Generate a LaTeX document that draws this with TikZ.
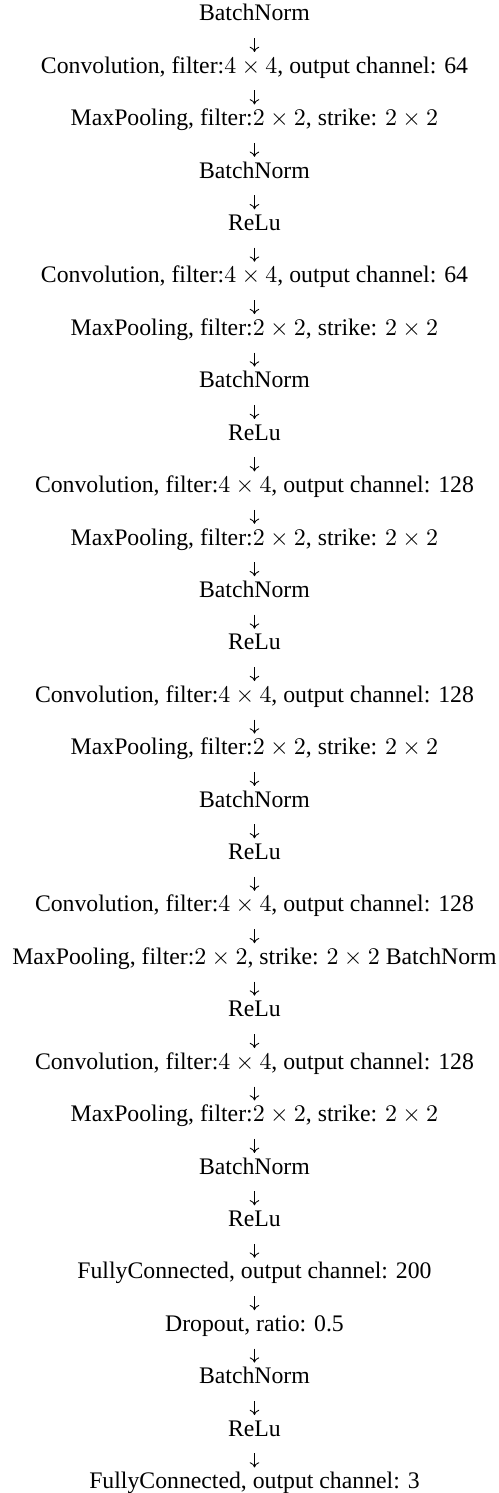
\documentclass[tikz,border=0pt]{standalone}
\usepackage[no-math]{fontspec}
\setmainfont{Liberation Serif}
\usepackage{amsmath}
\usetikzlibrary{positioning}
\usetikzlibrary{arrows.meta}

\begin{document}
\begin{tikzpicture}[
		layer/.style={inner sep=0pt, outer sep=0pt, text height=7.5pt, text depth=2.2pt, align=center, font=\fontsize{10.87pt}{13pt}\selectfont},
		flow/.style={-{Computer Modern Rightarrow[width=4.4pt,length=2.4pt]}, line width=0.4pt, shorten <=5.7pt, shorten >=2.2pt},
		node distance=14.3pt]
			\useasboundingbox (-116.5pt,0pt) rectangle (111.5pt,-683.5pt);
			\node[layer, anchor=base] (BN1) at (0,-9.5pt) {BatchNorm};
			\node(Conv1)[layer, below = of BN1]{Convolution, filter:$4\times 4$, output channel: 64};
			\node(Pool1)[layer, below = of Conv1]{MaxPooling, filter:$2\times 2$, strike: $2\times 2$};
			\node(BN2)[layer, below = of Pool1]{BatchNorm};
			\node(ReLu1)[layer, below = of BN2]{ReLu};
			\node(Conv2)[layer, below = of ReLu1]{Convolution, filter:$4\times 4$, output channel: 64};
			\node(Pool2)[layer, below = of Conv2]{MaxPooling, filter:$2\times 2$, strike: $2\times 2$};
			\node(BN3)[layer, below = of Pool2]{BatchNorm};
			\node(ReLu2)[layer, below = of BN3]{ReLu};
			\node(Conv3)[layer, below = of ReLu2]{Convolution, filter:$4\times 4$, output channel: 128};
			\node(Pool3)[layer, below = of Conv3]{MaxPooling, filter:$2\times 2$, strike: $2\times 2$};
			\node(BN4)[layer, below = of Pool3]{BatchNorm};
			\node(ReLu3)[layer, below = of BN4]{ReLu};
			\node(Conv4)[layer, below = of ReLu3]{Convolution, filter:$4\times 4$, output channel: 128};
			\node(Pool4)[layer, below = of Conv4]{MaxPooling, filter:$2\times 2$, strike: $2\times 2$};
			\node(BN5)[layer, below = of Pool4]{BatchNorm};
			\node(ReLu4)[layer, below = of BN5]{ReLu};
			\node(Conv5)[layer, below = of ReLu4]{Convolution, filter:$4\times 4$, output channel: 128};
			\node(Pool5)[layer, below = of Conv5]{MaxPooling, filter:$2\times 2$, strike: $2\times 2$ BatchNorm};
			\node(ReLu5)[layer, below = of Pool5]{ReLu};
			\node(Conv6)[layer, below = of ReLu5]{Convolution, filter:$4\times 4$, output channel: 128};
			\node(Pool6)[layer, below = of Conv6]{MaxPooling, filter:$2\times 2$, strike: $2\times 2$};
			\node(BN7)[layer, below = of Pool6]{BatchNorm};
			\node(ReLu6)[layer, below = of BN7]{ReLu};
			\node(FC1)[layer, below = of ReLu6]{FullyConnected, output channel: 200};
			\node(Drop)[layer, below = of FC1]{Dropout, ratio: 0.5};
			\node(BN8)[layer, below = of Drop]{BatchNorm};
			\node(ReLu7)[layer, below = of BN8]{ReLu};
			\node(FC2)[layer, below = of ReLu7]{FullyConnected, output channel: 3};
			\draw[flow] (BN1) to (Conv1);
			\draw[flow] (Conv1) to (Pool1);
			\draw[flow] (Pool1) to (BN2);
			\draw[flow] (BN2) to (ReLu1);
			\draw[flow] (ReLu1) to (Conv2);
			\draw[flow] (Conv2) to (Pool2);
			\draw[flow] (Pool2) to (BN3);
			\draw[flow] (BN3) to (ReLu2);
			\draw[flow] (ReLu2) to (Conv3);
			\draw[flow] (Conv3) to (Pool3);
			\draw[flow] (Pool3) to (BN4);
			\draw[flow] (BN4) to (ReLu3);
			\draw[flow] (ReLu3) to (Conv4);
			\draw[flow] (Conv4) to (Pool4);
			\draw[flow] (Pool4) to (BN5);
			\draw[flow] (BN5) to (ReLu4);
			\draw[flow] (ReLu4) to (Conv5);
			\draw[flow] (Conv5) to (Pool5);
			\draw[flow] (Pool5) to (ReLu5);
			\draw[flow] (ReLu5) to (Conv6);
			\draw[flow] (Conv6) to (Pool6);
			\draw[flow] (Pool6) to (BN7);
			\draw[flow] (BN7) to (ReLu6);
			\draw[flow] (ReLu6) to (FC1);
			\draw[flow] (FC1) to (Drop);
			\draw[flow] (Drop) to (BN8);
			\draw[flow] (BN8) to (ReLu7);
			\draw[flow] (ReLu7) to (FC2);
		\end{tikzpicture}
\end{document}
